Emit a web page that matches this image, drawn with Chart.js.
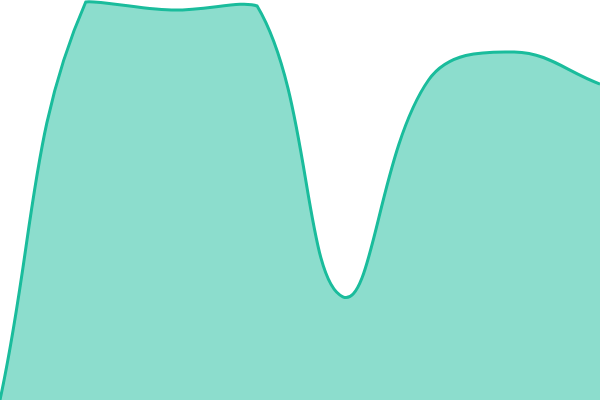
<!DOCTYPE html>
<html>
<head>
<meta charset="utf-8">
<script src="https://cdn.jsdelivr.net/npm/chart.js@4"></script>
<style>
html,body{margin:0;padding:0;background:#fff;}
#wrap{width:600px;height:400px;}
</style>
</head>
<body>
<div id="wrap"><canvas id="c"></canvas></div>
<script>
const labels = ["1", "2", "3", "4", "5", "6", "7", "8"];
const values = [0, 99.5, 97.5, 98.5, 25.8, 80, 87, 79];
const yMin = 0;
const yMax = 100;

new Chart(document.getElementById('c'), {
  type: 'line',
  data: {
    labels: labels,
    datasets: [{
      data: values,
      borderColor: '#1abc9c',
      backgroundColor: 'rgba(26,188,156,0.5)',
      borderWidth: 3,
      tension: 0.4,
      fill: 'origin',
      pointRadius: 0
    }]
  },
  options: {
    responsive: true,
    maintainAspectRatio: false,
    animation: false,
    layout: { padding: 0 },
    plugins: { legend: { display: false }, tooltip: { enabled: false } },
    scales: {
      x: { display: false },
      y: { display: false, min: yMin, max: yMax }
    }
  }
});
</script>
</body>
</html>
